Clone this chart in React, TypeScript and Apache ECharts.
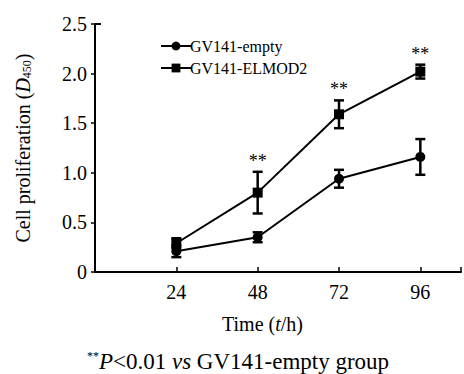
import React, { useEffect, useRef } from "react";
import * as echarts from "echarts";

const times = [24, 48, 72, 96];
const emptyMean = [0.21, 0.35, 0.94, 1.16];
const emptyErr = [0.06, 0.05, 0.09, 0.18];
const elmodMean = [0.29, 0.8, 1.59, 2.02];
const elmodErr = [0.05, 0.21, 0.14, 0.07];
const sigMarks = ["", "**", "**", "**"];
const yTicks = [0, 0.5, 1.0, 1.5, 2.0, 2.5];

const FONT = "'Liberation Serif', 'Times New Roman', serif";

export default function App() {
  const ref = useRef<HTMLDivElement>(null);
  useEffect(() => {
    if (!ref.current) return;
    const chart = echarts.init(ref.current, null, { renderer: "svg" });
    const errData = (means: number[], errs: number[]) =>
      times.map((t, i) => [t, means[i] - errs[i], means[i] + errs[i]]);
    const errRender = (params: any, api: any) => {
      const x = api.value(0);
      const top = api.coord([x, api.value(2)]);
      const bot = api.coord([x, api.value(1)]);
      const hw = 5;
      const style = { stroke: "#000", lineWidth: 2.5 };
      return {
        type: "group",
        children: [
          { type: "line", shape: { x1: top[0], y1: top[1], x2: bot[0], y2: bot[1] }, style },
          { type: "line", shape: { x1: top[0] - hw, y1: top[1], x2: top[0] + hw, y2: top[1] }, style },
          { type: "line", shape: { x1: bot[0] - hw, y1: bot[1], x2: bot[0] + hw, y2: bot[1] }, style },
        ],
      };
    };
    const norm = { fontFamily: FONT, fontWeight: "normal", color: "#000" };
    chart.setOption({
      animation: false,
      backgroundColor: "#fff",
      textStyle: { fontFamily: FONT, color: "#000" },
      legend: {
        left: 155,
        top: 33,
        orient: "vertical",
        itemWidth: 30,
        itemHeight: 11,
        itemGap: 6,
        textStyle: { fontFamily: FONT, fontSize: 16, color: "#000", padding: [0, 0, 0, -6] },
        data: ["GV141-empty", "GV141-ELMOD2"],
      },
      grid: { left: 95, right: 0, top: 24, bottom: 102 },
      xAxis: {
        type: "value",
        min: 0,
        max: 108,
        interval: 24,
        name: "{n|Time (}{i|t}{n|/h)}",
        nameLocation: "middle",
        nameGap: 42,
        nameTextStyle: {
          ...norm,
          fontSize: 20,
          padding: [0, 31, 0, 0],
          rich: {
            n: { ...norm, fontSize: 20 },
            i: { ...norm, fontSize: 20, fontStyle: "italic" },
          },
        },
        axisLine: { lineStyle: { color: "#000", width: 2 } },
        axisTick: { inside: true, length: 5, lineStyle: { color: "#000", width: 1.5 } },
        splitLine: { show: false },
        axisLabel: {
          fontFamily: FONT, fontSize: 20, color: "#000", margin: 10,
          formatter: (v: number) => (times.includes(v) ? String(v) : ""),
        },
      },
      yAxis: {
        type: "value",
        min: 0,
        max: 2.5,
        interval: 0.5,
        name: "{n|Cell proliferation (}{i|D}{sub|450}{n|)}",
        nameLocation: "middle",
        nameGap: 62,
        nameTextStyle: {
          rich: {
            n: { ...norm, fontSize: 20 },
            i: { ...norm, fontSize: 20, fontStyle: "italic" },
            sub: { ...norm, fontSize: 12, verticalAlign: "bottom", padding: [8, 0, 0, 0] },
          },
        },
        axisLine: { show: true, lineStyle: { color: "#000", width: 2 } },
        axisTick: { show: true, length: 4, lineStyle: { color: "#000", width: 1.5 } },
        splitLine: { show: false },
        axisLabel: {
          fontFamily: FONT, fontSize: 20, color: "#000", margin: 8,
          formatter: (v: number) => (yTicks.includes(v) ? (v === 0 ? "0" : v.toFixed(1)) : ""),
        },
      },
      series: [
        {
          name: "GV141-empty",
          type: "line",
          data: times.map((t, i) => [t, emptyMean[i]]),
          symbol: "circle",
          symbolSize: 10,
          lineStyle: { color: "#000", width: 2 },
          itemStyle: { color: "#000" },
          z: 3,
        },
        {
          name: "GV141-ELMOD2",
          type: "line",
          data: times.map((t, i) => [t, elmodMean[i]]),
          symbol: "rect",
          symbolSize: 10,
          lineStyle: { color: "#000", width: 2 },
          itemStyle: { color: "#000" },
          z: 3,
        },
        {
          type: "custom",
          data: errData(emptyMean, emptyErr),
          renderItem: errRender,
          z: 4,
          silent: true,
        },
        {
          type: "custom",
          data: errData(elmodMean, elmodErr),
          renderItem: errRender,
          z: 4,
          silent: true,
        },
        {
          type: "custom",
          data: times.map((t, i) => [t, elmodMean[i] + elmodErr[i], i]),
          renderItem: (params: any, api: any) => {
            const idx = api.value(2);
            const s = sigMarks[idx];
            if (!s) return null;
            const p = api.coord([api.value(0), api.value(1)]);
            return {
              type: "text",
              x: p[0],
              y: p[1] - 2,
              style: {
                text: s,
                fontFamily: FONT,
                fontSize: 18,
                fill: "#000",
                align: "center",
                verticalAlign: "bottom",
              },
            };
          },
          z: 5,
          silent: true,
        },
      ],
    });
    const topPt = chart.convertToPixel({ gridIndex: 0 }, [0, 2.5]) as number[];
    chart.setOption({
      graphic: [
        {
          type: "line",
          shape: { x1: topPt[0], y1: topPt[1], x2: topPt[0] + 6, y2: topPt[1] },
          style: { stroke: "#000", lineWidth: 2 },
        },
        {
          type: "text",
          x: 238,
          y: 361,
          style: {
            text: "{sup|**}{i|P}{n|<0.01 }{i|vs}{n| GV141-empty group}",
            align: "center",
            verticalAlign: "middle",
            rich: {
              n: { fontFamily: FONT, fontWeight: "normal", fontSize: 23, fill: "#000" },
              i: { fontFamily: FONT, fontWeight: "normal", fontStyle: "italic", fontSize: 23, fill: "#000" },
              sup: { fontFamily: FONT, fontWeight: "normal", fontSize: 12, fill: "#000", verticalAlign: "top", padding: [0, 0, 11, 0] },
            },
          },
        },
      ],
    });
    return () => chart.dispose();
  }, []);
  return <div ref={ref} style={{ width: 464, height: 374, position: "absolute", left: 0, top: 0 }} />;
}
